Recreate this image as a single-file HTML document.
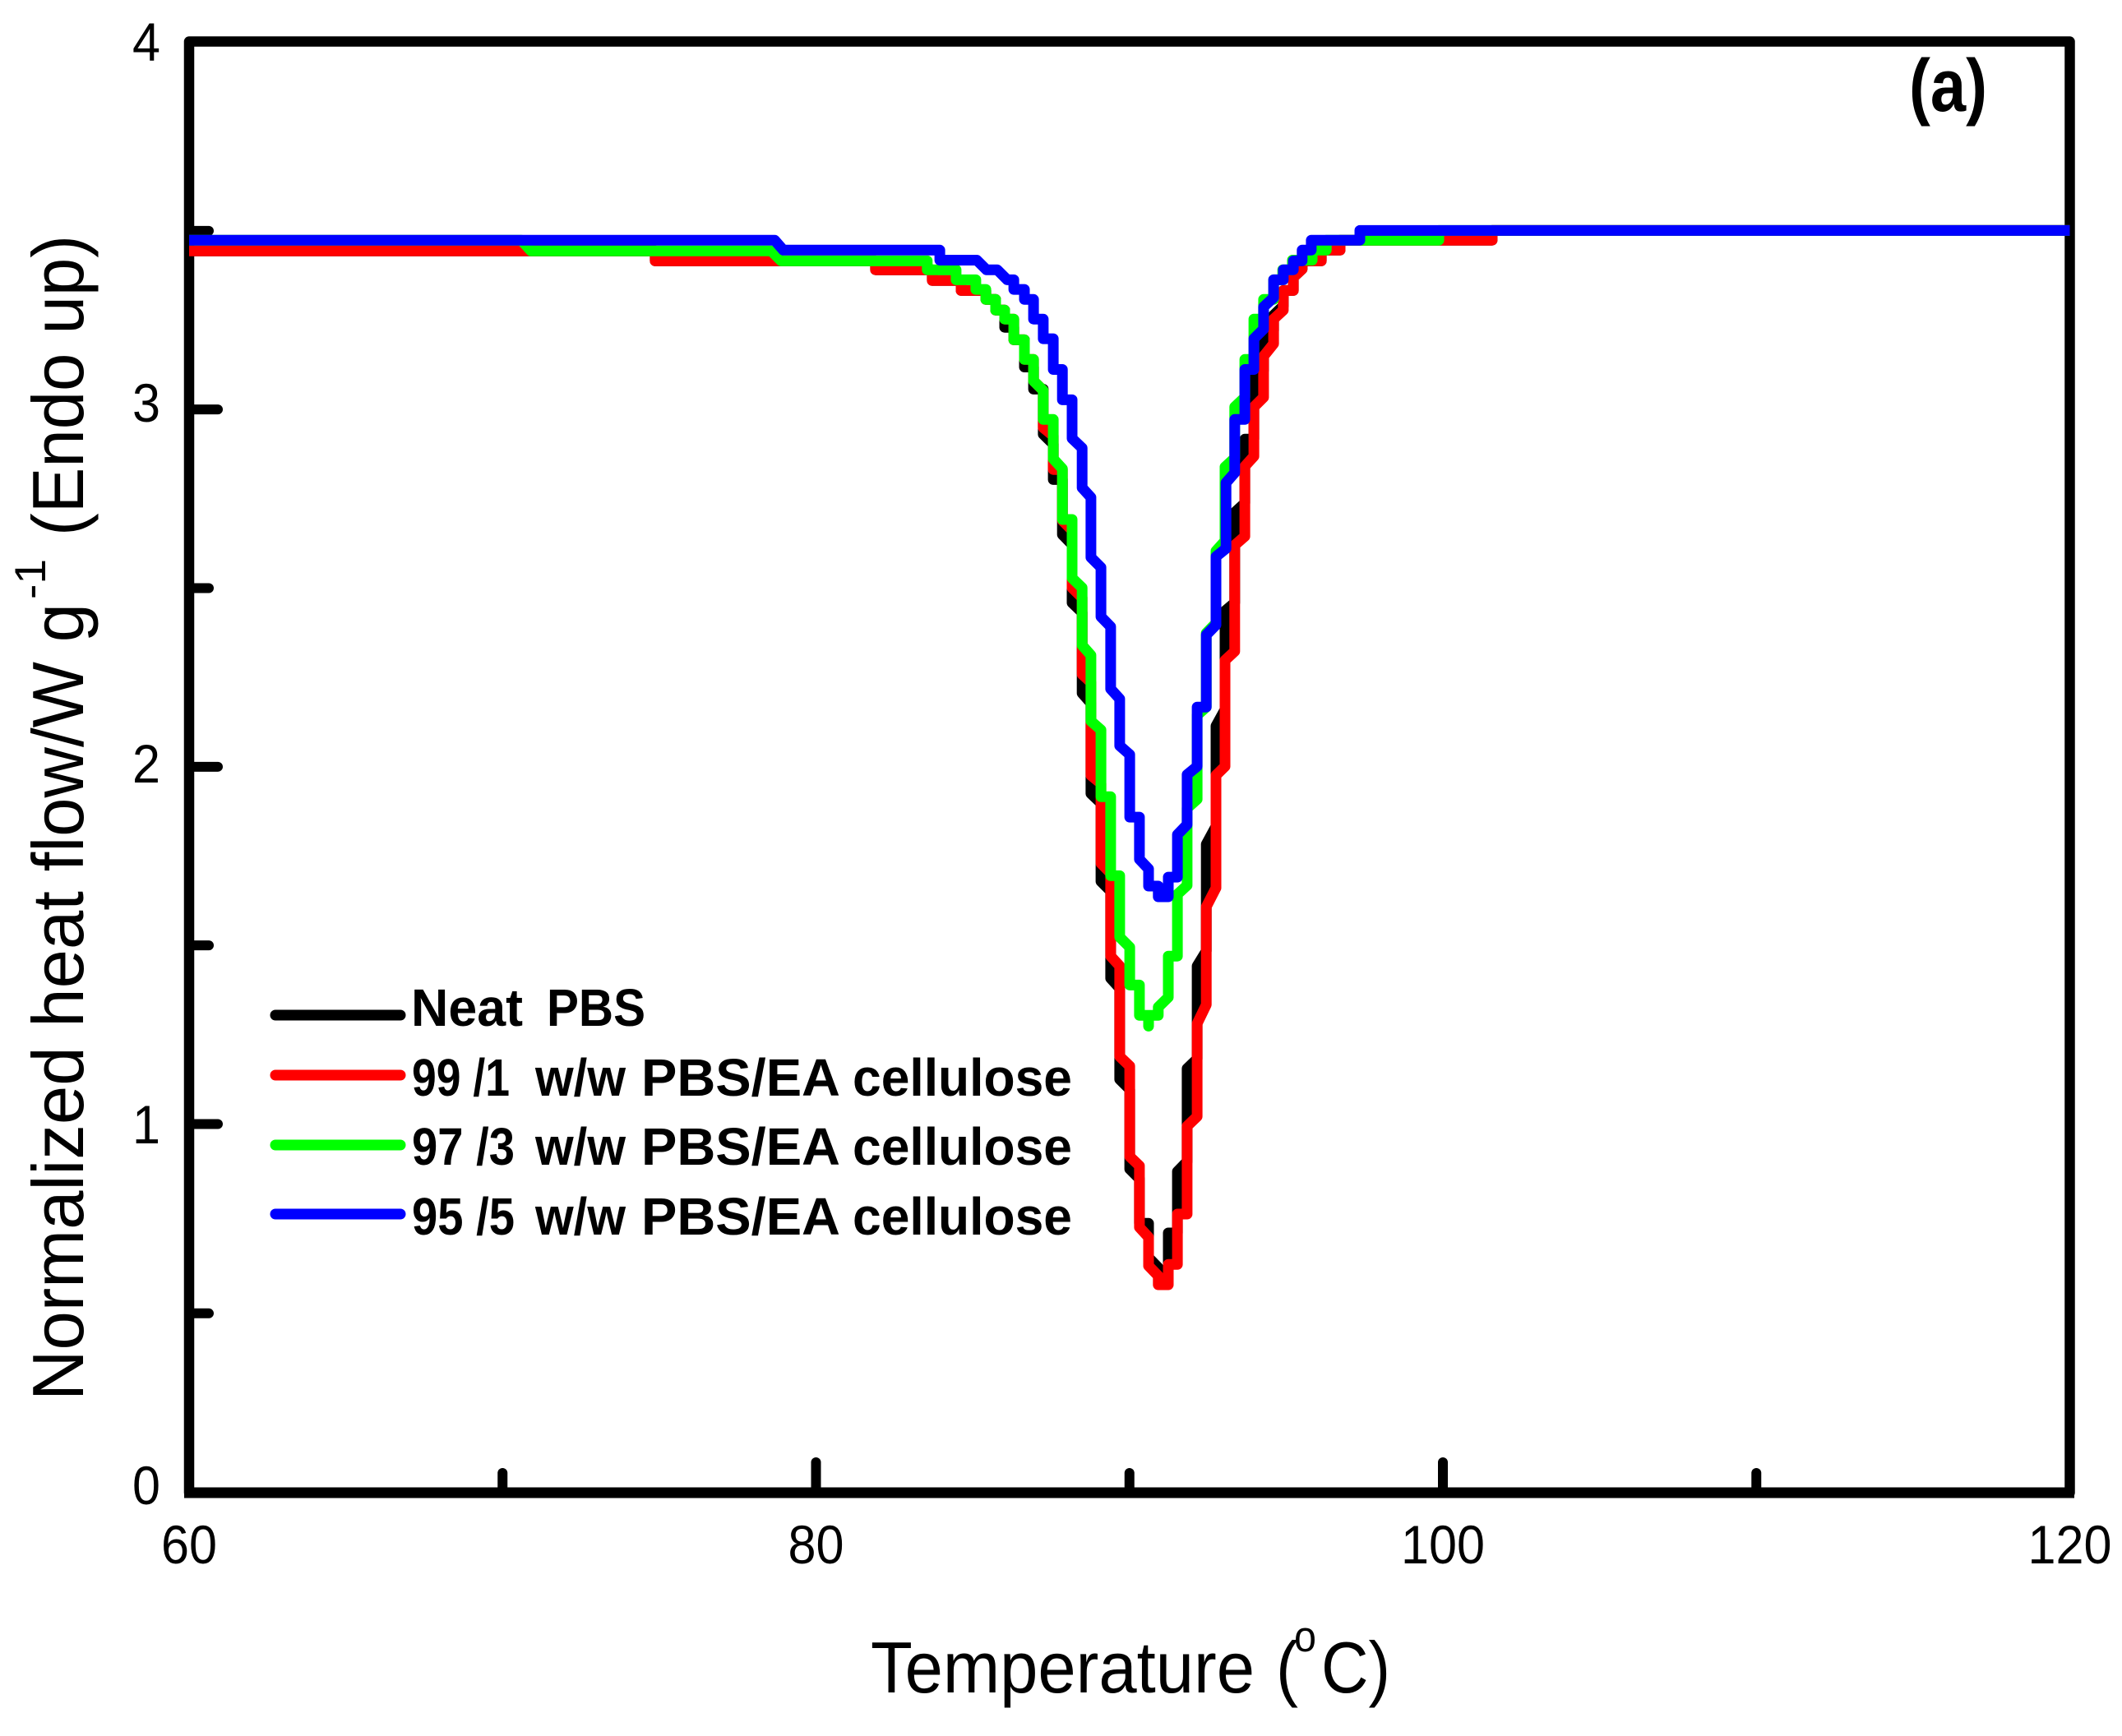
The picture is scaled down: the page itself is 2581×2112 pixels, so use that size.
<!DOCTYPE html>
<html lang="en">
<head>
<meta charset="utf-8">
<title>Normalized heat flow vs temperature</title>
<style>
  html, body { margin: 0; padding: 0; background: #fff; }
  svg { display: block; }
  text { font-family: "Liberation Sans", Arial, sans-serif; fill: #000; }
  .b { font-weight: bold; }
</style>
</head>
<body>
<svg id="chart" xmlns="http://www.w3.org/2000/svg" width="2581" height="2112" viewBox="0 0 2581 2112">
  <rect x="0" y="0" width="2581" height="2112" fill="#fff"/>
  <g id="ticks"></g>
  <g id="labels"></g>
  <rect x="230" y="50.5" width="2287.5" height="1765.5" fill="none" stroke="#000" stroke-width="12.5" stroke-linejoin="round"/>
  <line x1="224" y1="1816" x2="2523" y2="1816" stroke="#000" stroke-width="13"/>
  <g id="series"></g>

  <g>
    <text transform="translate(101,1704) rotate(-90)" font-size="88" textLength="970" lengthAdjust="spacingAndGlyphs">Normalized heat flow/W g</text>
    <text transform="translate(55,729) rotate(-90)" font-size="53" textLength="49" lengthAdjust="spacingAndGlyphs">-1</text>
    <text transform="translate(101,652) rotate(-90)" font-size="88" textLength="366" lengthAdjust="spacingAndGlyphs">(Endo up)</text>
  </g>

  <g>
    <text x="1059" y="2059" font-size="88" textLength="467" lengthAdjust="spacingAndGlyphs">Temperature</text>
    <text x="1552" y="2059" font-size="88" textLength="27" lengthAdjust="spacingAndGlyphs">(</text>
    <text x="1574" y="2009" font-size="53" textLength="27" lengthAdjust="spacingAndGlyphs">o</text>
    <text x="1607" y="2059" font-size="88" textLength="84" lengthAdjust="spacingAndGlyphs">C)</text>
  </g>

  <text class="b" x="2322" y="135" font-size="90" textLength="95" lengthAdjust="spacingAndGlyphs">(a)</text>

  <g font-size="64">
    <g>
      <line x1="335" y1="1235" x2="487" y2="1235" stroke="#000" stroke-width="13" stroke-linecap="round"/>
      <text class="b" x="500" y="1248" textLength="136" lengthAdjust="spacingAndGlyphs">Neat</text>
      <text class="b" x="665" y="1248" textLength="120" lengthAdjust="spacingAndGlyphs">PBS</text>
    </g>
    <g>
      <line x1="335" y1="1308" x2="487" y2="1308" stroke="#f00" stroke-width="13" stroke-linecap="round"/>
      <text class="b" x="501" y="1333" textLength="119" lengthAdjust="spacingAndGlyphs" xml:space="preserve">99 /1</text>
      <text class="b" x="651" y="1333" textLength="110" lengthAdjust="spacingAndGlyphs">w/w</text>
      <text class="b" x="780" y="1333" textLength="242" lengthAdjust="spacingAndGlyphs">PBS/EA</text>
      <text class="b" x="1037" y="1333" textLength="267" lengthAdjust="spacingAndGlyphs">cellulose</text>
    </g>
    <g>
      <line x1="335" y1="1393" x2="487" y2="1393" stroke="#0f0" stroke-width="13" stroke-linecap="round"/>
      <text class="b" x="501" y="1417" textLength="125" lengthAdjust="spacingAndGlyphs" xml:space="preserve">97 /3</text>
      <text class="b" x="651" y="1417" textLength="110" lengthAdjust="spacingAndGlyphs">w/w</text>
      <text class="b" x="780" y="1417" textLength="242" lengthAdjust="spacingAndGlyphs">PBS/EA</text>
      <text class="b" x="1037" y="1417" textLength="267" lengthAdjust="spacingAndGlyphs">cellulose</text>
    </g>
    <g>
      <line x1="335" y1="1477" x2="487" y2="1477" stroke="#00f" stroke-width="13" stroke-linecap="round"/>
      <text class="b" x="501" y="1502" textLength="125" lengthAdjust="spacingAndGlyphs" xml:space="preserve">95 /5</text>
      <text class="b" x="651" y="1502" textLength="110" lengthAdjust="spacingAndGlyphs">w/w</text>
      <text class="b" x="780" y="1502" textLength="242" lengthAdjust="spacingAndGlyphs">PBS/EA</text>
      <text class="b" x="1037" y="1502" textLength="267" lengthAdjust="spacingAndGlyphs">cellulose</text>
    </g>
  </g>
</svg>

<script>
// ---- chart data (temperature in deg C, heat flow in W/g) ----
const xTickLabels = [60, 80, 100, 120];
const xMinorTicks = [70, 90, 110];
const xMajorTicks = [80, 100];
const yTickLabels = [0, 1, 2, 3, 4];
const yMajorTicks = [1, 2, 3];
const yMinorTicks = [0.47, 1.5, 2.5, 3.5];

const neatTemps = [60,74.87,74.87,81.90,81.90,83.71,83.71,84.63,84.63,85.42,85.42,85.73,85.73,86.02,86.02,86.31,86.31,86.65,86.65,86.94,86.94,87.25,87.25,87.57,87.57,87.86,87.86,88.17,88.17,88.49,88.49,88.77,88.77,89.09,89.09,89.40,89.40,89.69,89.69,90.01,90.01,90.32,90.32,90.61,90.61,90.92,90.92,91.24,91.24,91.53,91.53,91.84,91.84,92.16,92.16,92.45,92.45,92.76,92.76,93.05,93.05,93.36,93.36,93.68,93.68,93.97,93.97,94.28,94.28,94.60,94.60,94.91,94.91,95.23,95.23,95.51,95.51,96.12,96.12,96.72,96.72,101.57,101.57,120];
const neatValues = [3.444,3.444,3.416,3.416,3.391,3.391,3.361,3.361,3.333,3.333,3.308,3.308,3.278,3.278,3.230,3.230,3.195,3.195,3.119,3.119,3.057,3.057,2.931,2.903,2.804,2.804,2.650,2.622,2.459,2.432,2.206,2.178,1.925,1.898,1.679,1.652,1.408,1.380,1.125,1.097,0.874,0.847,0.722,0.722,0.626,0.598,0.580,0.580,0.695,0.695,0.867,0.895,1.155,1.182,1.442,1.484,1.783,1.833,2.114,2.160,2.436,2.459,2.712,2.738,2.917,2.917,3.110,3.110,3.195,3.221,3.264,3.290,3.333,3.333,3.370,3.393,3.416,3.416,3.446,3.446,3.474,3.474,3.501,3.501];

const red99Temps = [60,74.87,74.87,81.90,81.90,83.71,83.71,84.63,84.63,85.42,85.42,85.73,85.73,86.02,86.02,86.31,86.31,86.65,86.65,86.94,86.94,87.25,87.25,87.57,87.57,87.86,87.86,88.17,88.17,88.49,88.49,88.77,88.77,89.09,89.09,89.40,89.40,89.69,89.69,90.01,90.01,90.32,90.32,90.61,90.61,90.92,90.92,91.24,91.24,91.53,91.53,91.84,91.84,92.16,92.16,92.45,92.45,92.76,92.76,93.05,93.05,93.36,93.36,93.68,93.68,93.97,93.97,94.28,94.28,94.60,94.60,94.91,94.91,95.23,95.23,95.51,95.51,96.12,96.12,96.72,96.72,101.57,101.57,120];
const red99Values = [3.444,3.444,3.416,3.416,3.391,3.391,3.361,3.361,3.333,3.333,3.308,3.308,3.278,3.278,3.253,3.253,3.195,3.195,3.140,3.140,3.080,3.053,2.949,2.926,2.832,2.832,2.689,2.662,2.501,2.473,2.259,2.236,1.976,1.953,1.730,1.702,1.470,1.442,1.189,1.162,0.909,0.883,0.711,0.683,0.603,0.575,0.550,0.550,0.607,0.607,0.748,0.748,0.994,1.021,1.281,1.334,1.608,1.661,1.976,2.001,2.298,2.323,2.620,2.645,2.841,2.869,3.007,3.034,3.149,3.184,3.253,3.278,3.333,3.333,3.370,3.393,3.416,3.416,3.446,3.446,3.474,3.474,3.501,3.501];

const green97Temps = [60,70.60,70.91,78.57,78.89,83.55,83.55,84.47,84.47,85.10,85.10,85.42,85.42,85.73,85.73,86.02,86.02,86.31,86.31,86.65,86.65,86.94,86.94,87.25,87.25,87.57,87.57,87.86,87.86,88.17,88.17,88.49,88.49,88.77,88.77,89.09,89.09,89.40,89.40,89.69,89.69,90.01,90.01,90.32,90.32,90.61,90.61,90.61,90.92,90.92,91.24,91.24,91.53,91.53,91.84,91.84,92.16,92.16,92.45,92.45,92.76,92.76,93.05,93.05,93.36,93.36,93.68,93.68,93.97,93.97,94.28,94.28,94.60,94.60,94.89,94.89,95.20,95.20,95.83,95.83,96.28,96.28,99.87,99.87,120];
const green97Values = [3.474,3.474,3.444,3.444,3.416,3.416,3.391,3.391,3.363,3.363,3.336,3.336,3.308,3.308,3.278,3.278,3.253,3.253,3.195,3.195,3.140,3.140,3.080,3.053,2.972,2.972,2.862,2.834,2.692,2.692,2.528,2.501,2.340,2.312,2.128,2.103,1.916,1.916,1.695,1.695,1.523,1.495,1.389,1.389,1.304,1.304,1.274,1.304,1.304,1.327,1.355,1.470,1.470,1.643,1.668,1.884,1.909,2.144,2.167,2.374,2.402,2.604,2.632,2.839,2.864,3.007,3.034,3.140,3.140,3.253,3.253,3.308,3.308,3.363,3.363,3.391,3.391,3.418,3.418,3.446,3.446,3.474,3.474,3.501,3.501];

const blue95Temps = [60,78.68,78.96,83.95,83.95,85.13,85.44,85.78,86.10,86.31,86.31,86.65,86.65,86.94,86.94,87.25,87.25,87.57,87.57,87.86,87.86,88.17,88.17,88.49,88.49,88.77,88.77,89.09,89.09,89.40,89.40,89.69,89.69,90.01,90.01,90.32,90.32,90.61,90.61,90.92,90.92,91.24,91.24,91.53,91.53,91.84,91.84,92.16,92.16,92.45,92.45,92.76,92.76,93.08,93.08,93.36,93.36,93.68,93.68,93.97,93.97,94.28,94.28,94.60,94.60,94.91,94.91,95.23,95.23,95.51,95.51,95.80,95.80,97.35,97.35,120];
const blue95Values = [3.474,3.474,3.446,3.446,3.418,3.418,3.391,3.391,3.363,3.363,3.336,3.336,3.308,3.308,3.253,3.253,3.198,3.198,3.112,3.112,3.027,3.027,2.919,2.892,2.781,2.754,2.586,2.558,2.420,2.392,2.218,2.190,2.059,2.034,1.859,1.859,1.741,1.714,1.666,1.666,1.636,1.636,1.691,1.691,1.810,1.838,1.978,2.001,2.167,2.167,2.369,2.397,2.588,2.611,2.795,2.823,2.972,2.972,3.112,3.112,3.198,3.225,3.287,3.313,3.363,3.363,3.391,3.391,3.416,3.416,3.446,3.446,3.474,3.474,3.501,3.501];

// ---- axis functions ----
const SVG_NS = 'http://www.w3.org/2000/svg';
const xDomain = [60, 120];
const xRange = [230, 2517.5];
const yDomain = [-0.032, 4.03];
const yRange = [1816, 50.5];
function xScale(t) {
  return xRange[0] + (t - xDomain[0]) / (xDomain[1] - xDomain[0]) * (xRange[1] - xRange[0]);
}
function yScale(v) {
  return yRange[0] + (v - yDomain[0]) / (yDomain[1] - yDomain[0]) * (yRange[1] - yRange[0]);
}
function yLabelBaseline(v) {
  return 1830 - 439 * v;
}

function make(tag, attrs, parent) {
  const el = document.createElementNS(SVG_NS, tag);
  for (const k in attrs) el.setAttribute(k, attrs[k]);
  parent.appendChild(el);
  return el;
}

const ticksGroup = document.getElementById('ticks');
const labelsGroup = document.getElementById('labels');
const seriesGroup = document.getElementById('series');

function drawYTick(v, endX, name) {
  const el = make('line', {x1: 232, x2: endX, y1: yScale(v), y2: yScale(v), stroke: '#000', 'stroke-width': 12, 'stroke-linecap': 'round'}, ticksGroup);
  
  
}
function drawXTick(t, topY, name) {
  const el = make('line', {x1: xScale(t), x2: xScale(t), y1: 1812, y2: topY, stroke: '#000', 'stroke-width': 12, 'stroke-linecap': 'round'}, ticksGroup);
  
  
}
yMajorTicks.forEach(function (v) { drawYTick(v, 265, 'y-major-tick'); });
yMinorTicks.forEach(function (v) { drawYTick(v, 254, 'y-minor-tick'); });
xMajorTicks.forEach(function (t) { drawXTick(t, 1779, 'x-major-tick'); });
xMinorTicks.forEach(function (t) { drawXTick(t, 1792, 'x-minor-tick'); });

xTickLabels.forEach(function (t) {
  const el = make('text', {x: xScale(t), y: 1902, 'font-size': 66, 'text-anchor': 'middle', textLength: String(t).length * 34, lengthAdjust: 'spacingAndGlyphs'}, labelsGroup);
  el.textContent = t;
  
  
});
yTickLabels.forEach(function (v) {
  const el = make('text', {x: 195, y: yLabelBaseline(v), 'font-size': 66, 'text-anchor': 'end', textLength: 34, lengthAdjust: 'spacingAndGlyphs'}, labelsGroup);
  el.textContent = v;
  
  
});

function drawSeries(temps, values, color, name) {
  const d = temps.map(function (t, i) {
    return (i ? 'L' : 'M') + xScale(t).toFixed(1) + ' ' + yScale(values[i]).toFixed(1);
  }).join(' ');
  const el = make('path', {d: d, fill: 'none', stroke: color, 'stroke-width': 13, 'stroke-linejoin': 'round', 'stroke-linecap': 'butt'}, seriesGroup);
  
  
}
drawSeries(neatTemps, neatValues, '#000', 'series-neat-pbs');
drawSeries(red99Temps, red99Values, '#f00', 'series-99-1-pbs-ea-cellulose');
drawSeries(green97Temps, green97Values, '#0f0', 'series-97-3-pbs-ea-cellulose');
drawSeries(blue95Temps, blue95Values, '#00f', 'series-95-5-pbs-ea-cellulose');
</script>
</body>
</html>
